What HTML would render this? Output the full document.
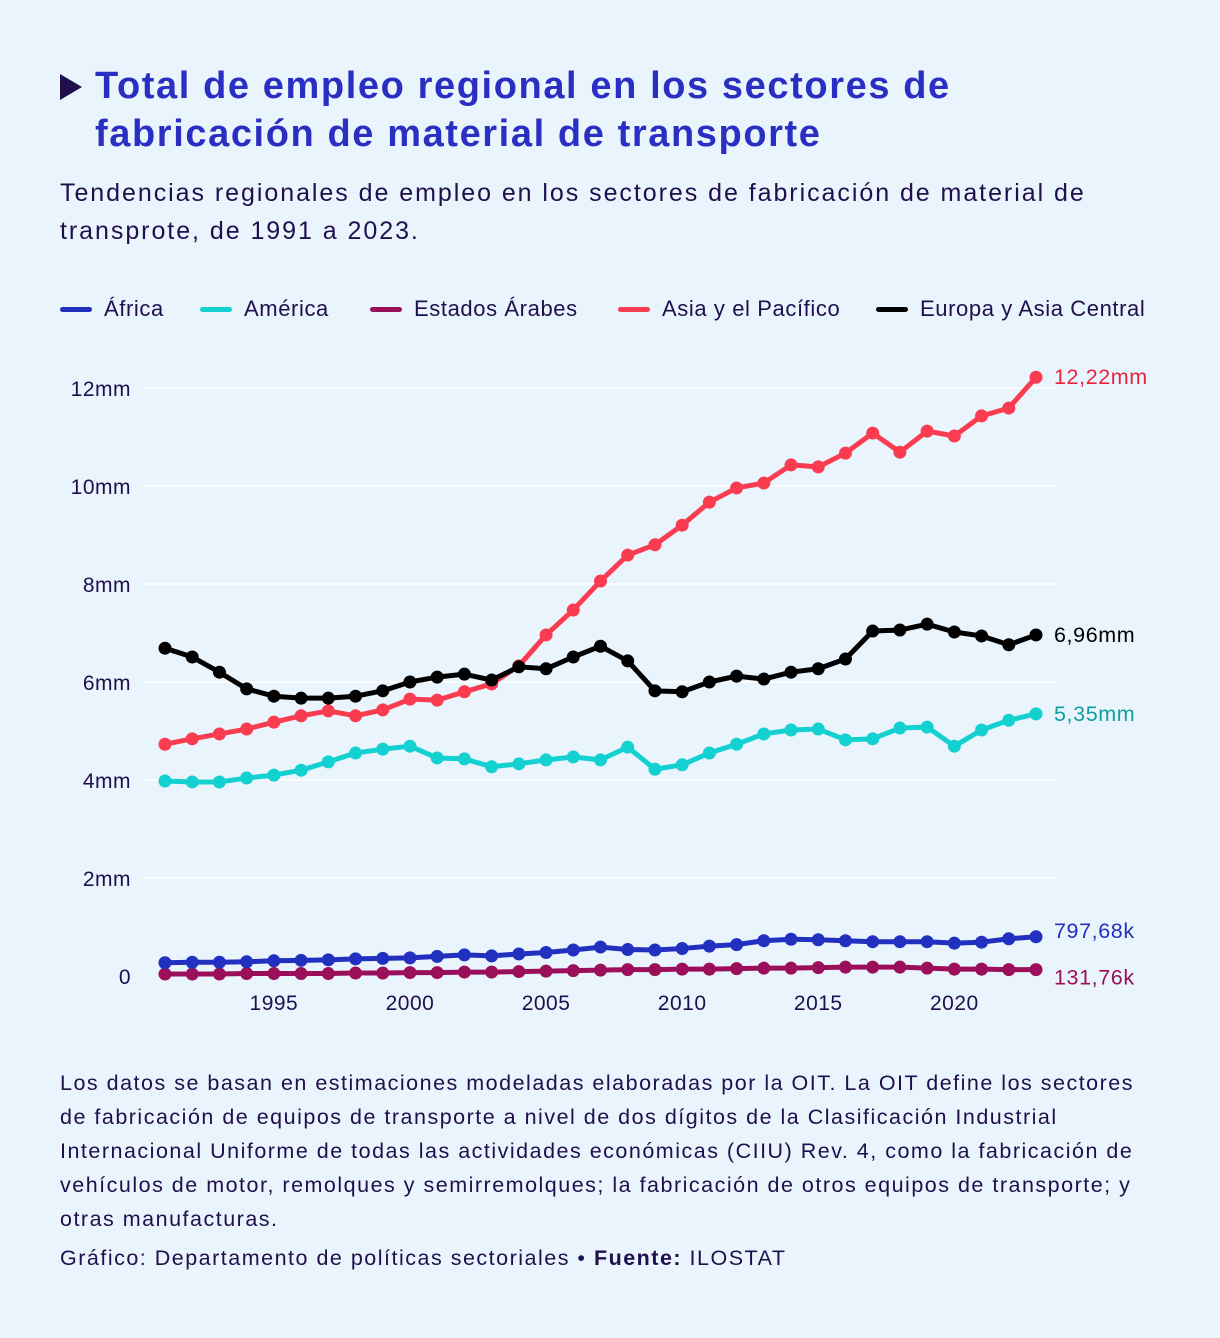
<!DOCTYPE html>
<html><head><meta charset="utf-8"><style>
body{margin:0;background:#eaf4fd;font-family:"Liberation Sans","DejaVu Sans",sans-serif;color:#1f0f4d}
#wrap{position:relative;width:1220px;height:1338px;overflow:hidden}
h1{position:absolute;left:95px;top:62px;margin:0;font-size:38px;line-height:48px;color:#2a2fc4;font-weight:bold;width:1100px;letter-spacing:1.6px;white-space:nowrap}
.tri{position:absolute;left:60px;top:74px;width:0;height:0;border-left:22px solid #1f0f4d;border-top:13px solid transparent;border-bottom:13px solid transparent}
.sub{position:absolute;left:60px;top:174px;font-size:25px;line-height:38px;width:1150px;letter-spacing:1.95px;white-space:nowrap}
.li{position:absolute;top:296px;font-size:22px;display:flex;align-items:center;letter-spacing:0.6px;white-space:nowrap}
.sw{width:32px;height:5px;border-radius:3px;margin-right:12px}
.note{position:absolute;left:60px;top:1066px;font-size:21.5px;line-height:34px;width:1150px;letter-spacing:1.5px;white-space:nowrap}
.src{position:absolute;left:60px;top:1246px;font-size:21.5px;letter-spacing:1.5px}
</style></head><body><div id="wrap">
<div class="tri"></div>
<h1>Total de empleo regional en los sectores de<br>fabricación de material de transporte</h1>
<div class="sub">Tendencias regionales de empleo en los sectores de fabricación de material de<br>transprote, de 1991 a 2023.</div>
<div class="li" style="left:60px"><div class="sw" style="background:#2230c0"></div>África</div>
<div class="li" style="left:200px"><div class="sw" style="background:#14d1d1"></div>América</div>
<div class="li" style="left:370px"><div class="sw" style="background:#9b0f5a"></div>Estados Árabes</div>
<div class="li" style="left:618px"><div class="sw" style="background:#fa3c50"></div>Asia y el Pacífico</div>
<div class="li" style="left:876px"><div class="sw" style="background:#000"></div>Europa y Asia Central</div>
<svg id="chart" width="1220" height="1338" style="position:absolute;left:0;top:0"></svg>
<div class="note">Los datos se basan en estimaciones modeladas elaboradas por la OIT. La OIT define los sectores<br>de fabricación de equipos de transporte a nivel de dos dígitos de la Clasificación Industrial<br>Internacional Uniforme de todas las actividades económicas (CIIU) Rev. 4, como la fabricación de<br>vehículos de motor, remolques y semirremolques; la fabricación de otros equipos de transporte; y<br>otras manufacturas.</div>
<div class="src">Gráfico: Departamento de políticas sectoriales • <b>Fuente:</b> ILOSTAT</div>
</div>
<script>
const years=[];for(let y=1991;y<=2023;y++)years.push(y);
const yTicks=[0,2,4,6,8,10,12];
const yTickLabels=["0","2mm","4mm","6mm","8mm","10mm","12mm"];
const xTicks=[1995,2000,2005,2010,2015,2020];
const africa=[0.27,0.28,0.28,0.29,0.31,0.32,0.33,0.35,0.36,0.37,0.40,0.43,0.41,0.45,0.48,0.53,0.59,0.54,0.53,0.56,0.61,0.64,0.72,0.75,0.74,0.72,0.70,0.70,0.70,0.67,0.69,0.76,0.80];
const america=[3.98,3.96,3.96,4.04,4.10,4.20,4.37,4.55,4.63,4.69,4.45,4.43,4.27,4.33,4.41,4.47,4.41,4.67,4.22,4.31,4.55,4.73,4.94,5.02,5.04,4.82,4.84,5.06,5.08,4.69,5.02,5.22,5.35];
const arab=[0.04,0.04,0.04,0.05,0.05,0.05,0.05,0.06,0.06,0.07,0.07,0.08,0.08,0.09,0.10,0.11,0.12,0.13,0.13,0.14,0.14,0.15,0.16,0.16,0.17,0.18,0.18,0.18,0.16,0.14,0.14,0.13,0.13];
const asia=[4.73,4.84,4.94,5.04,5.18,5.31,5.41,5.31,5.43,5.65,5.63,5.80,5.96,6.33,6.96,7.47,8.06,8.59,8.80,9.20,9.67,9.96,10.06,10.43,10.39,10.67,11.08,10.69,11.12,11.02,11.43,11.59,12.22];
const europe=[6.69,6.51,6.20,5.86,5.71,5.67,5.67,5.71,5.82,6.00,6.10,6.16,6.04,6.31,6.27,6.51,6.73,6.43,5.82,5.80,6.00,6.12,6.06,6.20,6.27,6.47,7.04,7.06,7.18,7.02,6.94,6.76,6.96];
const endLabels=["797,68k","5,35mm","131,76k","12,22mm","6,96mm"];
const NS="http://www.w3.org/2000/svg";
const svg=document.getElementById('chart');
const X=y=>165+(y-1991)*(1036-165)/32;
const Y=v=>976-v*49;
function el(t,a,p){const e=document.createElementNS(NS,t);for(const k in a)e.setAttribute(k,a[k]);(p||svg).appendChild(e);return e;}
yTicks.forEach((t,i)=>{
 if(t>0){const g=el('line',{x1:145,x2:1055,y1:Y(t),y2:Y(t),stroke:'#fff','stroke-width':1.5});
 
 }
 const tx=el('text',{x:131,y:Y(t)+8,'text-anchor':'end','font-size':21,'letter-spacing':0.5,fill:'#1f0f4d'});tx.textContent=yTickLabels[i];
 
 
});
xTicks.forEach(t=>{
 const tx=el('text',{x:X(t),y:1010,'text-anchor':'middle','font-size':21,'letter-spacing':0.5,fill:'#1f0f4d'});tx.textContent=t;
 
 
});
const series=[[arab,'#9b0f5a','#9b0f5a','arab'],[africa,'#2230c0','#2230c0','africa'],[america,'#14d1d1','#0e9f9f','america'],[asia,'#fa3c50','#e6243c','asia'],[europe,'#000','#000','europe']];
const labelIdx={arab:2,africa:0,america:1,asia:3,europe:4};
series.forEach(([d,c,lc,n])=>{
 const g=el('g',{});
 
 
 const pts=d.map((v,i)=>X(years[i])+','+Y(v)).join(' ');
 const pl=el('polyline',{points:pts,fill:'none',stroke:c,'stroke-width':5,'stroke-linejoin':'round'},g);
 
 
 d.forEach((v,i)=>{const p=el('circle',{cx:X(years[i]),cy:Y(v),r:6.5,fill:c},g);
  
  });
 const last=d[d.length-1];
 let ly=Y(last)+7; if(n==='africa')ly-=6; if(n==='arab')ly+=8;
 const t=el('text',{x:1054,y:ly,'font-size':21.5,'letter-spacing':0.6,fill:lc},g);t.textContent=endLabels[labelIdx[n]];
 
 
});
</script></body></html>
